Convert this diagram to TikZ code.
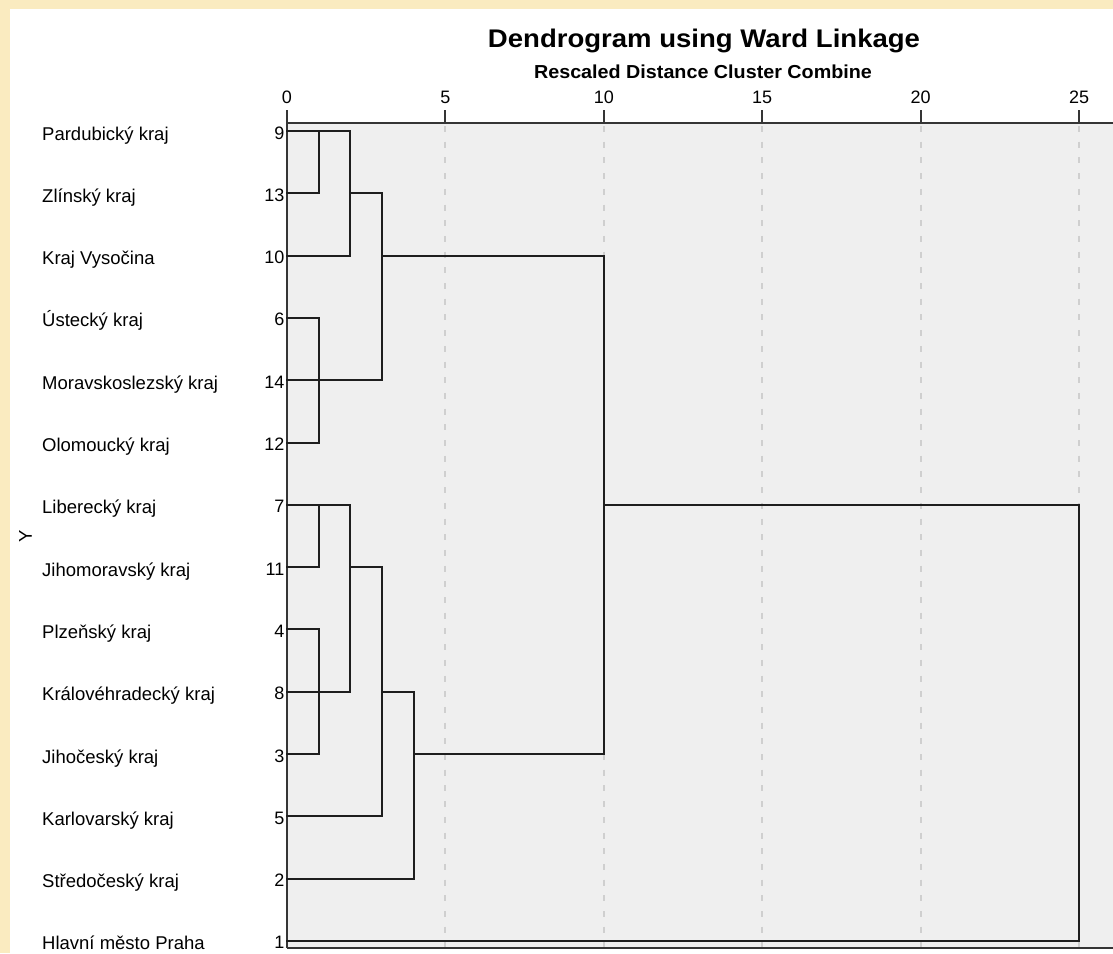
\documentclass[tikz,border=0pt]{standalone}
\usepackage{fontspec}
\setmainfont{Liberation Sans}
\newfontfamily\ttlfont[FakeStretch=1.08]{Liberation Sans}
\newfontfamily\subfont[FakeStretch=1.05]{Liberation Sans}
\definecolor{outerbg}{HTML}{FAEBC0}
\definecolor{plotbg}{HTML}{EFEFEF}
\definecolor{gridc}{HTML}{CFCFCF}
\definecolor{linec}{HTML}{1E1E1E}
\begin{document}
\begin{tikzpicture}[x=1pt,y=-1pt,
  dl/.style={draw=linec, line width=2pt, line cap=rect},
  axisline/.style={draw=linec!90, line width=2pt},
  gridline/.style={draw=gridc, line width=2pt, dash pattern=on 6pt off 9.7pt},
  lab/.style={inner sep=0pt, font=\fontsize{18.5}{20}\selectfont},
  numlab/.style={inner sep=0pt, font=\fontsize{18}{20}\selectfont},
  ttl/.style={inner sep=0pt, font=\ttlfont\bfseries\fontsize{25.5}{28}\selectfont},
  subttl/.style={inner sep=0pt, font=\subfont\bfseries\fontsize{18.8}{21}\selectfont}]
\useasboundingbox (0,0) rectangle (1113,953);
\fill[outerbg] (0,0) rectangle (1113,953);
\fill[white] (10,9) rectangle (1113,953);
% plot area
\fill[plotbg] (287,123) rectangle (1113,948);
% grid lines
\foreach \v in {5,10,15,20,25}{
  \pgfmathsetmacro\tx{287+31.68*\v}
  \draw[gridline] (\tx,126) -- (\tx,948);
}
% axes
\draw[axisline] (287,123) -- (1113,123);
\draw[axisline] (287,948) -- (1113,948);
\draw[axisline] (287,110) -- (287,948);
\foreach \v in {0,5,10,15,20,25}{
  \pgfmathsetmacro\tx{287+31.68*\v}
  \draw[axisline] (\tx,110) -- (\tx,123);
  \node[numlab, anchor=base] (t\v) at (\tx,103.3) {\v};
}
% titles
\node[ttl, anchor=base] (title) at (704,47) {Dendrogram using Ward Linkage};
\node[subttl, anchor=base] (subtitle) at (703,78) {Rescaled Distance Cluster Combine};
% Y axis label
\node[lab, rotate=90] (ylab) at (25.5,536) {Y};
% leaves
\foreach \i/\name/\num in {0/Pardubický kraj/9, 1/Zlínský kraj/13, 2/Kraj Vysočina/10,
  3/Ústecký kraj/6, 4/Moravskoslezský kraj/14, 5/Olomoucký kraj/12,
  6/Liberecký kraj/7, 7/Jihomoravský kraj/11, 8/Plzeňský kraj/4,
  9/Královéhradecký kraj/8, 10/Jihočeský kraj/3, 11/Karlovarský kraj/5,
  12/Středočeský kraj/2, 13/Hlavní město Praha/1}{
  \pgfmathsetmacro\ry{131+62.3*\i}
  \coordinate (l\i) at (287,\ry);
  \node[lab, anchor=base west] (name\i) at (42,\ry+9) {\name};
  \node[numlab, anchor=base east] (num\i) at (284.5,\ry+8) {\num};
}
% merge points (x = 287 + 31.68*distance, y = row of cluster)
\coordinate (A) at (318.7,131);      % 9,13
\coordinate (B) at (350.4,193.3);    % A,10
\coordinate (C) at (318.7,380.2);    % 6,14,12
\coordinate (D) at (382.0,255.6);    % B,C
\coordinate (E) at (318.7,504.8);    % 7,11
\coordinate (F) at (318.7,691.7);    % 4,8,3
\coordinate (G) at (350.4,567.1);    % E,F
\coordinate (H) at (382.0,691.7);    % G,5
\coordinate (I) at (413.7,754.0);    % H,2
\coordinate (J) at (603.8,504.8);    % D,I
\coordinate (K) at (1079.0,504.8);   % J,1
% dendrogram connectors
\draw[dl] (l0) -| (A);  \draw[dl] (l1) -| (A);
\draw[dl] (A) -| (B);   \draw[dl] (l2) -| (B);
\draw[dl] (l3) -| (C);  \draw[dl] (l4) -| (C);  \draw[dl] (l5) -| (C);
\draw[dl] (B) -| (D);   \draw[dl] (C) -| (D);
\draw[dl] (l6) -| (E);  \draw[dl] (l7) -| (E);
\draw[dl] (l8) -| (F);  \draw[dl] (l9) -| (F);  \draw[dl] (l10) -| (F);
\draw[dl] (E) -| (G);   \draw[dl] (F) -| (G);
\draw[dl] (G) -| (H);   \draw[dl] (l11) -| (H);
\draw[dl] (H) -| (I);   \draw[dl] (l12) -| (I);
\draw[dl] (D) -| (J);   \draw[dl] (I) -| (J);
\draw[dl] (J) -| (K);   \draw[dl] (l13) -| (K);
\end{tikzpicture}
\end{document}
